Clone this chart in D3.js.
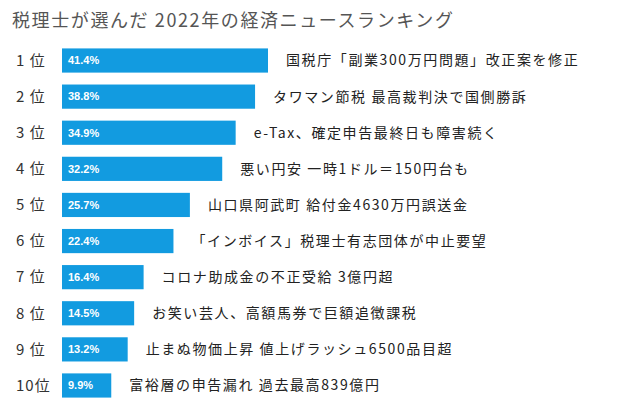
<!DOCTYPE html>
<html><head><meta charset="utf-8">
<script src="https://cdn.jsdelivr.net/npm/d3@7"></script>
<style>body{margin:0;background:#fff;font-family:"Noto Sans CJK JP",sans-serif;}</style>
</head><body><div class="chart"></div>
<script>
const ranks = ["1 位","2 位","3 位","4 位","5 位","6 位","7 位","8 位","9 位","10位"];
const values = [41.4, 38.8, 34.9, 32.2, 25.7, 22.4, 16.4, 14.5, 13.2, 9.9];
const topics = [
	"国税庁「副業300万円問題」改正案を修正",
	"タワマン節税 最高裁判決で国側勝訴",
	"e-Tax、確定申告最終日も障害続く",
	"悪い円安 一時1ドル＝150円台も",
	"山口県阿武町 給付金4630万円誤送金",
	"「インボイス」税理士有志団体が中止要望",
	"コロナ助成金の不正受給 3億円超",
	"お笑い芸人、高額馬券で巨額追徴課税",
	"止まぬ物価上昇 値上げラッシュ6500品目超",
	"富裕層の申告漏れ 過去最高839億円"
];

const svg = d3.select(".chart").append("svg").attr("width", 618).attr("height", 412);

svg.append("text").attr("x", 12).attr("y", 27)
	.attr("font-size", 18).attr("fill", "#555").attr("letter-spacing", 1.6)
	.text("税理士が選んだ 2022年の経済ニュースランキング");

const x = d3.scaleLinear().domain([0, 41.4]).range([62, 268]);
const y = d3.scaleBand().domain(ranks).range([43, 403]).paddingInner(0.33).paddingOuter(0.15);

const row = svg.selectAll("g.row").data(ranks).join("g").attr("class", "row");

row.append("text").attr("x", 16).attr("y", d => y(d) + y.bandwidth() / 2)
	.attr("dy", "0.35em").attr("font-size", 15).attr("letter-spacing", 1).attr("fill", "#333").text(d => d);

row.append("rect").attr("x", x(0)).attr("y", d => y(d))
	.attr("width", (d, i) => x(values[i]) - x(0)).attr("height", y.bandwidth())
	.attr("fill", "#129be0");

row.append("text").attr("x", x(0) + 6).attr("y", d => y(d) + y.bandwidth() / 2)
	.attr("dy", "0.35em").attr("font-size", 11).attr("font-weight", "bold")
	.attr("font-family", "Liberation Sans, sans-serif").attr("fill", "#fff")
	.text((d, i) => values[i].toFixed(1) + "%");

row.append("text").attr("x", (d, i) => x(values[i]) + 18).attr("y", d => y(d) + y.bandwidth() / 2)
	.attr("dy", "0.35em").attr("font-size", 14).attr("letter-spacing", 1.6).attr("fill", "#222")
	.text((d, i) => topics[i]);
</script></body></html>
